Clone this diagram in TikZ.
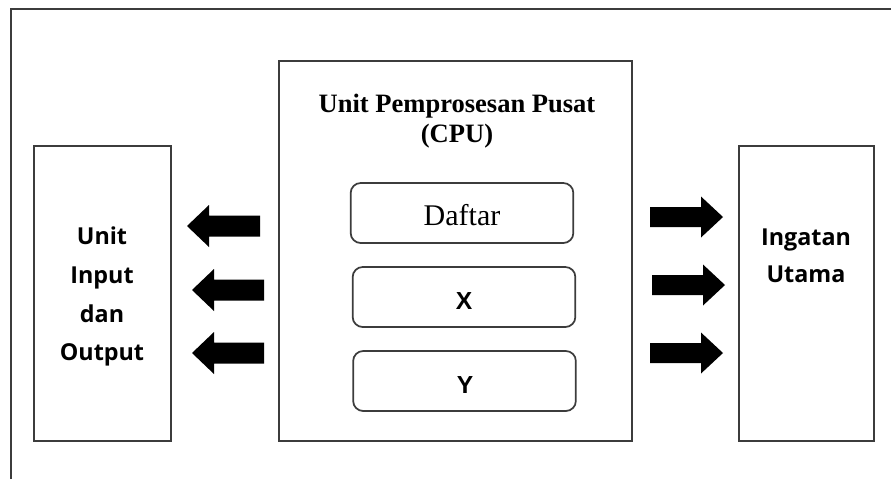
\documentclass[tikz,border=0pt]{standalone}
\usepackage{fontspec}
\setmainfont{Liberation Serif}
\newfontfamily\osans{Open Sans}
\newfontfamily\lsans{Liberation Sans}
\definecolor{linegray}{HTML}{3C3C3C}
\begin{document}
\begin{tikzpicture}[x=0.75pt,y=-0.75pt,
  frame/.style={draw=linegray,line width=1.3pt},
  unitbox/.style={draw=linegray,line width=1.3pt,rectangle,inner sep=0pt},
  regbox/.style={draw=linegray,line width=1.3pt,rectangle,rounded corners=7.5pt,inner sep=0pt,minimum width=167pt,minimum height=45pt},
  sanslabel/.style={anchor=base,inner sep=0pt,font=\osans\bfseries\fontsize{17.5pt}{21pt}\selectfont},
  titlelabel/.style={anchor=base,inner sep=0pt,font=\bfseries\fontsize{19.9pt}{24pt}\selectfont},
  reglabel/.style={anchor=base,inner sep=0pt,font=\lsans\bfseries\fontsize{18.5pt}{22pt}\selectfont},
  blockarrow/.style={fill=black,draw=none}]
\useasboundingbox (0,0) rectangle (891,479);
% outer frame (open at right and bottom)
\coordinate (fbl) at (11,479);
\coordinate (ftl) at (11,9);
\coordinate (ftr) at (891,9);
\draw[frame] (fbl) -- (ftl) -- (ftr);
% main boxes
\node[unitbox,minimum width=102.75pt,minimum height=221.25pt] (io) at (102.5,293.5) {};
\node[unitbox,minimum width=264.75pt,minimum height=285pt] (cpu) at (455.5,251) {};
\node[unitbox,minimum width=101.25pt,minimum height=221.25pt] (mem) at (806.5,293.5) {};
% registers
\node[regbox] (daftar) at (462,213) {};
\node[regbox] (regx) at (464,297) {};
\node[regbox] (regy) at (464.5,381) {};
% texts
\node[titlelabel] (t1) at (457,112) {Unit Pemprosesan Pusat};
\node[titlelabel] (t2) at (457,142) {(CPU)};
\node[anchor=base,inner sep=0pt,font=\fontsize{22.5pt}{26pt}\selectfont] (td) at (462,225) {Daftar};
\node[reglabel] (tx) at (464,309) {X};
\node[reglabel] (ty) at (465,393) {Y};
\node[sanslabel] (io1) at (102,244) {Unit};
\node[sanslabel] (io2) at (102,283) {Input};
\node[sanslabel] (io3) at (102,322) {dan};
\node[sanslabel] (io4) at (102,360) {Output};
\node[sanslabel] (m1) at (806,245) {Ingatan};
\node[sanslabel] (m2) at (806,282) {Utama};
% left block arrows
\foreach \tip/\tail/\cy in {187/260/226, 192/264/290, 192/264/353}{
  \fill[blockarrow] (\tip,\cy) -- (\tip+22,\cy-21) -- (\tip+22,\cy-10.5) -- (\tail,\cy-10.5)
    -- (\tail,\cy+10.5) -- (\tip+22,\cy+10.5) -- (\tip+22,\cy+21) -- cycle;
}
% right block arrows
\foreach \tail/\tip/\cy in {650/723/217, 652/725/285, 650/723/353}{
  \fill[blockarrow] (\tip,\cy) -- (\tip-22,\cy-20.5) -- (\tip-22,\cy-10) -- (\tail,\cy-10)
    -- (\tail,\cy+10) -- (\tip-22,\cy+10) -- (\tip-22,\cy+20.5) -- cycle;
}
\end{tikzpicture}
\end{document}
